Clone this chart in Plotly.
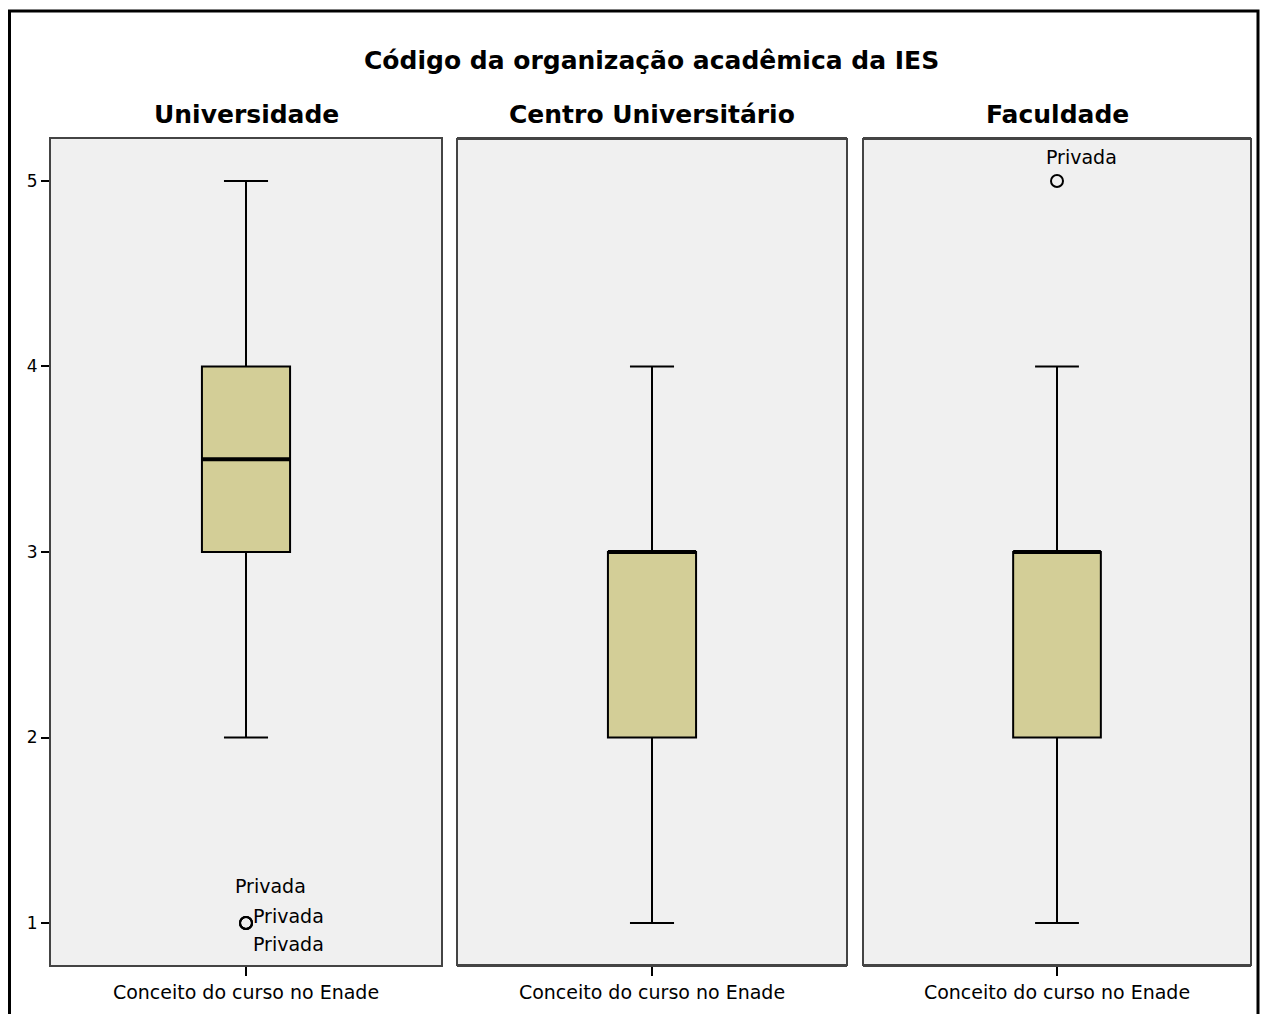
import plotly.graph_objects as go

# dados (boxplot SPSS)
grupos = ["Universidade", "Centro Universitário", "Faculdade"]
categoria = "Conceito do curso no Enade"
q1 = [3, 2, 2]
mediana = [3.5, 3, 3]
q3 = [4, 3, 3]
lim_inf = [2, 1, 1]
lim_sup = [5, 4, 4]
outliers = [[1, 1, 1], [], [5]]
rotulos = [["Privada", "Privada", "Privada"], [], ["Privada"]]
y_ticks = [1, 2, 3, 4, 5]

# a página tem margem de 8px no body
W, H = 1260, 1006
L, R, T, B = 43, 17, 131, 49
pw = W - L - R
ph = H - T - B
doms = [(43, 433), (449, 839), (855, 1243)]

def px(lx):
	return (lx - L) / pw

def py(ly):
	return (H - B - ly) / ph

fonte = "DejaVu Sans"

fig = go.Figure()
for i, g in enumerate(grupos):
	ax = "" if i == 0 else str(i + 1)
	fig.add_trace(go.Box(
		x=[categoria], q1=[q1[i]], median=[mediana[i]], q3=[q3[i]],
		lowerfence=[lim_inf[i]], upperfence=[lim_sup[i]],
		width=0.226, whiskerwidth=0.5, boxpoints=False,
		fillcolor='#D3CE97', line=dict(color='black', width=2),
		xaxis='x' + ax, yaxis='y', showlegend=False, hoverinfo='skip'))
	# linha da mediana mais grossa
	fig.add_trace(go.Box(
		x=[categoria], q1=[mediana[i]], median=[mediana[i]], q3=[mediana[i]],
		lowerfence=[mediana[i]], upperfence=[mediana[i]],
		width=0.226, whiskerwidth=0, boxpoints=False,
		fillcolor='rgba(0,0,0,0)', line=dict(color='black', width=4),
		xaxis='x' + ax, yaxis='y', showlegend=False, hoverinfo='skip'))
	if outliers[i]:
		fig.add_trace(go.Scatter(
			x=[categoria] * len(outliers[i]), y=outliers[i], mode='markers',
			marker=dict(symbol='circle-open', size=12, color='black', line=dict(width=2)),
			xaxis='x' + ax, yaxis='y', showlegend=False, hoverinfo='skip'))

# rótulos dos outliers
desloc = {0: [(-13, 37), (5, 7), (5, -21)], 2: [(-13, 24)]}
for i, offs in desloc.items():
	ax = "" if i == 0 else str(i + 1)
	for (dx, dy), txt, yv in zip(offs, rotulos[i], outliers[i]):
		fig.add_annotation(x=categoria, y=yv, xref='x' + ax, yref='y', text=txt,
			showarrow=False, xanchor='left', yanchor='middle', xshift=dx, yshift=dy,
			font=dict(family=fonte, size=19, color='black'))

# títulos dos painéis
for i, g in enumerate(grupos):
	fig.add_annotation(x=px(sum(doms[i]) / 2), y=py(107), xref='paper', yref='paper',
		text='<b>' + g + '</b>', showarrow=False, xanchor='center', yanchor='middle',
		font=dict(family=fonte, size=25, color='black'))

fig.add_annotation(x=px(643), y=py(52), xref='paper', yref='paper',
	text='<b>Código da organização acadêmica da IES</b>', showarrow=False,
	xanchor='center', yanchor='middle',
	font=dict(family=fonte, size=25, color='black'))

# moldura externa
fig.add_shape(type='rect', xref='paper', yref='paper',
	x0=px(1.5), x1=px(1250), y0=py(1030), y1=py(3),
	line=dict(color='black', width=3), fillcolor='rgba(0,0,0,0)', layer='above')

eixo_x = dict(type='category', range=[-0.5, 0.5], showline=True, mirror=True, automargin=False,
	linecolor='#444', linewidth=2, ticks='outside', ticklen=9, tickwidth=2, tickcolor='black',
	showgrid=False, zeroline=False, tickfont=dict(family=fonte, size=19, color='black'))

layout = dict(
	width=W, height=H, margin=dict(l=L, r=R, t=T, b=B),
	paper_bgcolor='white', plot_bgcolor='#F0F0F0',
	yaxis=dict(range=[0.774, 5.226], tickvals=y_ticks, showline=True, mirror=True, automargin=False,
		linecolor='#444', linewidth=2, ticks='outside', ticklen=8, tickwidth=2, tickcolor='black',
		showgrid=False, zeroline=False, tickfont=dict(family=fonte, size=17, color='black')),
)
for i in range(3):
	k = 'xaxis' if i == 0 else 'xaxis' + str(i + 1)
	d = dict(eixo_x)
	d['domain'] = [px(doms[i][0]), px(doms[i][1])]
	if i > 0:
		d['anchor'] = 'y'
	layout[k] = d
fig.update_layout(**layout)

# painéis 2 e 3 com o fundo e a borda
for i in (1, 2):
	fig.add_shape(type='rect', xref='x%d domain' % (i + 1), yref='y domain', x0=0, x1=1, y0=0, y1=1,
		line=dict(color='#444', width=2), fillcolor='#F0F0F0', layer='below')

fig.write_html("out.html", default_width='%dpx' % W, default_height='%dpx' % H)
